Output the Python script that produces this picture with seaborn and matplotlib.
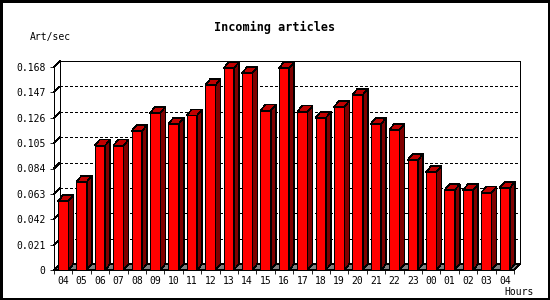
import matplotlib
matplotlib.use("Agg")
import matplotlib.pyplot as plt
from matplotlib.patches import Polygon, Rectangle
import seaborn as sns

hours = ['04', '05', '06', '07', '08', '09', '10', '11', '12', '13', '14', '15', '16',
         '17', '18', '19', '20', '21', '22', '23', '00', '01', '02', '03', '04']
art_sec = [0.057, 0.073, 0.103, 0.103, 0.115, 0.130, 0.121, 0.128, 0.153, 0.167,
           0.163, 0.132, 0.167, 0.131, 0.126, 0.135, 0.145, 0.121, 0.116, 0.091,
           0.081, 0.066, 0.066, 0.064, 0.068]
yticks = [0, 0.021, 0.042, 0.063, 0.084, 0.105, 0.126, 0.147, 0.168]
ytick_labels = ['0', '0.021', '0.042', '0.063', '0.084', '0.105', '0.126', '0.147', '0.168']

front = '#ff0000'
side = '#800000'
top = '#c00000'
floor = '#808080'
lw = 0.6
blw = 0.4
W, H = 550, 300

sns.set_style('white')
plt.rcParams['font.family'] = ['DejaVu Sans Mono']
plt.rcParams['text.color'] = 'black'
plt.rcParams['xtick.color'] = 'black'
plt.rcParams['ytick.color'] = 'black'
plt.rcParams['lines.scale_dashes'] = False
plt.rcParams['patch.antialiased'] = False
plt.rcParams['lines.antialiased'] = False

fig = plt.figure(figsize=(5.5, 3), dpi=100)
ax = fig.add_axes([54 / W, 30 / H, 460 / W, 203 / H])

n = len(art_sec)
sns.barplot(x=list(range(n)), y=art_sec, color=front, saturation=1, width=0.56,
            edgecolor='black', linewidth=blw, ax=ax, zorder=3)
bars = list(ax.patches)
ax.set_xlim(-0.5, n - 0.5)
ax.set_ylim(0, yticks[-1])

# pixel depth of the fake 3d offset, in data units
inv = ax.transData.inverted()
p0 = inv.transform((0, 0))
p1 = inv.transform((6, 6))
dx, dy = p1[0] - p0[0], p1[1] - p0[1]
bdx = dx * 5 / 6
x0, x1, ytop = -0.5, n - 0.5, yticks[-1]

# floor
ax.add_patch(Polygon([(x0, 0), (x1, 0), (x1 + dx, dy), (x0 + dx, dy)], closed=True,
                     fc=floor, ec='black', lw=blw, zorder=1, clip_on=False))

# back wall outline and dotted grid
kw = dict(color='black', lw=lw, clip_on=False, zorder=2)
ax.plot([x0 + dx, x1 + dx], [ytop + dy, ytop + dy], **kw)
ax.plot([x0 + dx, x0 + dx], [dy, ytop + dy], **kw)
ax.plot([x1 + dx, x1 + dx], [dy, ytop + dy], **kw)
ax.plot([x0, x0 + dx], [ytop, ytop + dy], **kw)
ax.plot([x1, x1 + dx], [0, dy], **kw)
for v in yticks[1:-1]:
    ax.plot([x0, x0 + dx], [v, v + dy], **kw)
    ax.plot([x0 + dx, x1 + dx], [v + dy, v + dy], color='black', lw=lw,
            dashes=(1.45, 1.45), clip_on=False, zorder=2)

# side and top faces of the bars
for p in bars:
    p.set_antialiased(False)
    bx, bw, bh = p.get_x(), p.get_width(), p.get_height()
    ax.add_patch(Polygon([(bx + bw, 0), (bx + bw + bdx, dy), (bx + bw + bdx, bh + dy), (bx + bw, bh)],
                         closed=True, fc=side, ec='black', lw=blw, zorder=3, clip_on=False))
    ax.add_patch(Polygon([(bx, bh), (bx + bw, bh), (bx + bw + bdx, bh + dy), (bx + bdx, bh + dy)],
                         closed=True, fc=top, ec='black', lw=blw, zorder=3, clip_on=False))

for s in ['top', 'right']:
    ax.spines[s].set_visible(False)
for s in ['left', 'bottom']:
    ax.spines[s].set_linewidth(lw)
    ax.spines[s].set_color('black')
    ax.spines[s].set_zorder(4)

ax.set_yticks(yticks)
ax.set_yticklabels(ytick_labels)
ax.set_xticks([i - 0.5 for i in range(n + 1)])
ax.set_xticklabels([])
ax.set_xticks(list(range(n)), minor=True)
ax.set_xticklabels(hours, minor=True)
ax.tick_params(axis='both', which='major', direction='out', length=3, width=lw,
               color='black', labelsize=7, pad=3, left=True, bottom=True)
ax.tick_params(axis='x', which='minor', length=0, labelsize=7, pad=4)
ax.set_xlabel('')
ax.set_ylabel('')

fig.text(275 / W, 1 - 27 / H, 'Incoming articles', ha='center', va='center',
         fontsize=8.5, fontweight='bold')
fig.text(30 / W, 1 - 37 / H, 'Art/sec', ha='left', va='center', fontsize=7)
fig.text(504 / W, 1 - 292 / H, 'Hours', ha='left', va='center', fontsize=7)
fig.patches.append(Rectangle((0, 0), 1, 1, transform=fig.transFigure, fill=False,
                             ec='black', lw=2.5, zorder=10))

fig.savefig('out.png', dpi=100, facecolor='white')
